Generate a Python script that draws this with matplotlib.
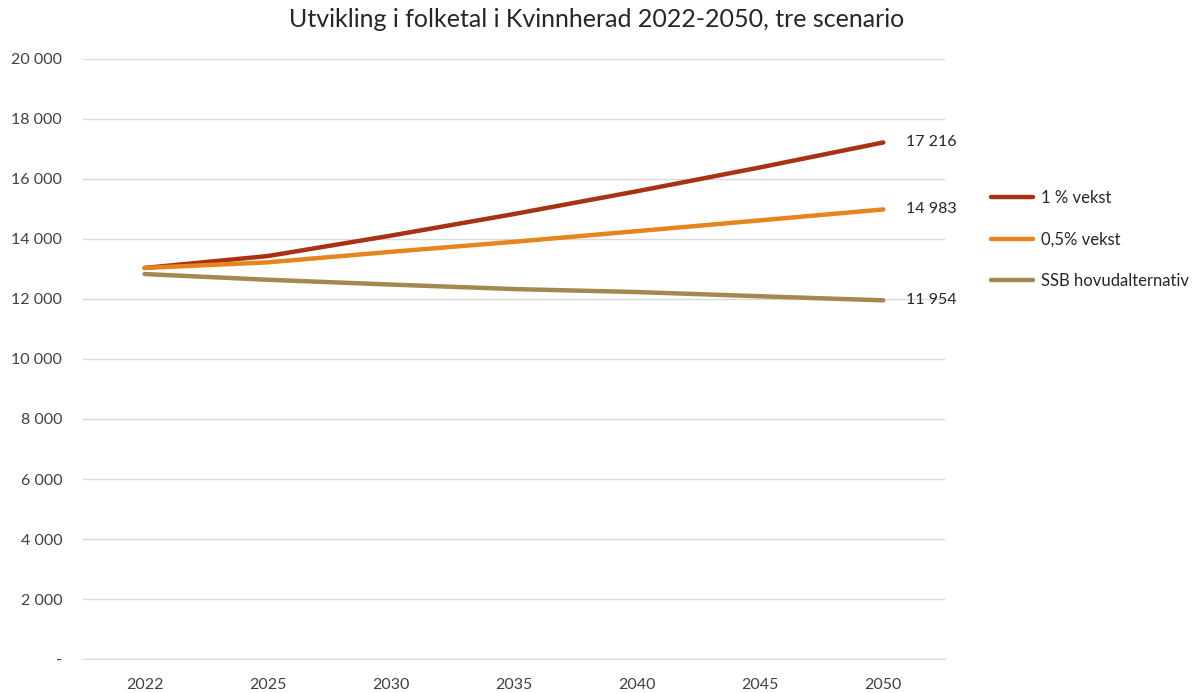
import matplotlib
matplotlib.use("Agg")
import matplotlib.pyplot as plt
from matplotlib.ticker import FuncFormatter

plt.rcParams['font.family'] = ['Lato', 'DejaVu Sans']

years = ["2022", "2025", "2030", "2035", "2040", "2045", "2050"]
vekst_1 = [13033, 13430, 14110, 14830, 15590, 16385, 17216]
vekst_05 = [13033, 13220, 13570, 13905, 14260, 14620, 14983]
ssb = [12830, 12640, 12480, 12330, 12230, 12090, 11954]

series_names = ["1 % vekst", "0,5% vekst", "SSB hovudalternativ"]
series_values = [vekst_1, vekst_05, ssb]
colors = ["#A83212", "#E6851E", "#A4884F"]

fig = plt.figure(figsize=(11.93, 6.93), dpi=100)
ax = fig.add_axes([0.0696, 0.049, 0.7224, 0.866])

x = list(range(len(years)))
for name, vals, c in zip(series_names, series_values, colors):
    ax.plot(x, vals, color=c, lw=3.2, solid_capstyle='round', label=name)
    ax.annotate(f"{vals[-1]:,}".replace(",", " "), xy=(x[-1], vals[-1]),
                xytext=(16, 0), textcoords='offset points', va='center', ha='left',
                fontsize=11.5, color='#262626')

ax.set_xlim(-0.5, len(years) - 0.5)
ax.set_ylim(0, 20000)
ax.set_yticks(range(0, 20001, 2000))
ax.yaxis.set_major_formatter(FuncFormatter(lambda v, p: "-" if v == 0 else f"{int(v):,}".replace(",", " ")))
ax.set_xticks(x)
ax.set_xticklabels(years)
ax.grid(axis='y', color='#D9D9D9', lw=1)
ax.set_axisbelow(True)
for s in ['top', 'right', 'left']:
    ax.spines[s].set_visible(False)
ax.spines['bottom'].set_color('#D9D9D9')
ax.tick_params(axis='both', length=0, labelsize=11.5, colors='#404040')
ax.tick_params(axis='y', pad=15)
ax.tick_params(axis='x', pad=14)

fig.suptitle("Utvikling i folketal i Kvinnherad 2022-2050, tre scenario",
             x=0.5, y=0.988, fontsize=18, color='#262626')

fig.legend(loc='upper left', bbox_to_anchor=(0.818, 0.748), frameon=False,
           fontsize=12, labelspacing=1.55, handlelength=2.5, handletextpad=0.5,
           labelcolor='#262626')

fig.savefig("out.png", dpi=100)
